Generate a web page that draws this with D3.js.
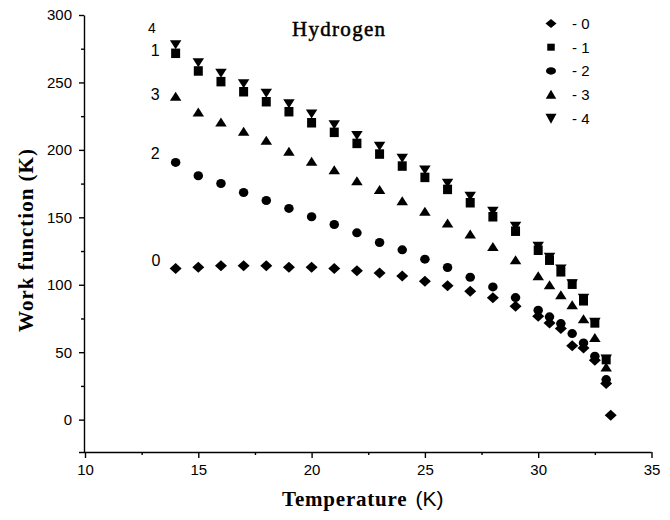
<!DOCTYPE html>
<html><head><meta charset="utf-8">
<script src="https://cdn.jsdelivr.net/npm/d3@7"></script>
<style>
html,body{margin:0;padding:0;background:#fff;}
svg{display:block;}
</style></head>
<body>
<svg id="chart" width="670" height="520"></svg>
<script>
// ---- data ----
const temps = [14,15,16,17,18,19,20,21,22,23,24,25,26,27,28,29,30,30.5,31,31.5,32,32.5,33];
const series0 = [112,113,114,114,114,113,113,112,110.3,108.8,106.4,102.6,99.2,95.2,90.3,84,76.7,71.7,67.5,54.7,53.2,44,26.7,3.2];
const temps0 = [14,15,16,17,18,19,20,21,22,23,24,25,26,27,28,29,30,30.5,31,31.5,32,32.5,33,33.2];
const series1 = [271.6,258.5,250.6,243.1,235.7,228.3,220.1,213,204.8,196.9,188,179.6,170.7,160.8,150.4,139.7,125.6,118.2,109.6,100.4,88.1,71.7,44.5];
const series2 = [190.7,180.8,175.1,168.4,162.5,156.6,150.4,144.7,138.5,131.3,125.9,119,112.8,105.6,98.4,90.5,81.1,76.2,71.2,63.8,56.9,47,29.7];
const series3 = [239.4,227.8,220.4,213.5,206.8,198.6,191.2,185,176.8,170.2,162,154.1,145.4,137.3,128.1,118.2,106.4,99.7,92.3,84.8,74.4,60.6,38.6];
const series4 = [278.3,264.9,257.2,249.3,242.4,234.5,227,218.9,211,203,194.2,185.5,175.6,166,154.8,143.7,128.9,120.7,112,101,90.3,72.5,45.3];
const seriesNames = ["-0","-1","-2","-3","-4"];
const curveLabels = [
  {text:"4", t:12.78, v:286.6},
  {text:"1", t:12.9, v:269.5},
  {text:"3", t:12.9, v:237},
  {text:"2", t:12.9, v:193},
  {text:"0", t:12.94, v:113.9}
];
const xTicks = [10,15,20,25,30,35];
const xMinor = [12.5,17.5,22.5,27.5,32.5];
const yTicks = [0,50,100,150,200,250,300];
const yMinor = [25,75,125,175,225,275];

// ---- layout ----
const svg = d3.select("#chart");
const x = d3.scaleLinear().domain([10,35]).range([85,651.5]);
const y = d3.scaleLinear().domain([-24,300]).range([452,15]);

function shape(type,w,h){
  const a=w/2,b=h/2;
  switch(type){
    case "diamond": return `M0,${-b}L${a},0L0,${b}L${-a},0Z`;
    case "square": return `M${-a},${-b}H${a}V${b}H${-a}Z`;
    case "circle": return `M${-a},0A${a},${b} 0 1,0 ${a},0A${a},${b} 0 1,0 ${-a},0Z`;
    case "up": return `M0,${-b*1.1}L${a},${b*0.9}L${-a},${b*0.9}Z`;
    case "down": return `M0,${b*1.1}L${a},${-b*0.9}L${-a},${-b*0.9}Z`;
  }
}
const types = ["diamond","square","circle","up","down"];
const plotSizes = [[12,11],[9,9.5],[9.5,9],[11.5,9],[11.5,9]];
const legendSizes = [[11,9],[7.5,7],[10,7.5],[10.5,9],[11,10]];

// axes
const gx = svg.append("g").attr("transform",`translate(0,${y(-24)})`);
gx.call(d3.axisBottom(x).tickValues(xTicks).tickSize(6).tickSizeOuter(0).tickFormat(d3.format("d")));
const gxm = svg.append("g").attr("transform",`translate(0,${y(-24)})`);
gxm.call(d3.axisBottom(x).tickValues(xMinor).tickSize(3).tickFormat(""));
gxm.select(".domain").remove();
gx.select(".domain").attr("d",`M79,0.5H${x(35)}`);

const gy = svg.append("g").attr("transform",`translate(${x(10)-1},0)`);
gy.call(d3.axisLeft(y).tickValues(yTicks).tickSize(5).tickSizeOuter(0).tickFormat(d3.format("d")));
const gym = svg.append("g").attr("transform",`translate(${x(10)-1},0)`);
gym.call(d3.axisLeft(y).tickValues(yMinor).tickSize(3).tickFormat(""));
gym.select(".domain").remove();

svg.selectAll(".tick text").attr("font-family","'Liberation Sans', Arial, sans-serif").attr("font-size",15).attr("fill","#000");
gx.selectAll(".tick text").attr("dy","0.95em");
gy.selectAll(".tick text").attr("dx","-4");
svg.selectAll(".domain, .tick line").attr("stroke","#000").attr("stroke-width",1.4);

// data marks
const allSeries = [
  temps0.map((t,i)=>({t,v:series0[i]})),
  temps.map((t,i)=>({t,v:series1[i]})),
  temps.map((t,i)=>({t,v:series2[i]})),
  temps.map((t,i)=>({t,v:series3[i]})),
  temps.map((t,i)=>({t,v:series4[i]}))
];
allSeries.forEach((pts,si)=>{
  svg.append("g").selectAll("path").data(pts).join("path")
    .attr("d",shape(types[si],plotSizes[si][0],plotSizes[si][1]))
    .attr("transform",d=>`translate(${x(d.t)},${y(d.v)})`)
    .attr("fill","#000");
});

// curve labels
svg.append("g").selectAll("text").data(curveLabels).join("text")
  .attr("x",d=>x(d.t)).attr("y",d=>y(d.v))
  .attr("font-family","'Liberation Sans', Arial, sans-serif")
  .attr("font-size",d=>d.text==="4"?14:16)
  .text(d=>d.text);

// legend
const lg = svg.append("g");
seriesNames.forEach((n,i)=>{
  const cy = 23.5 + i*23.7;
  lg.append("path").attr("d",shape(types[i],legendSizes[i][0],legendSizes[i][1]))
    .attr("transform",`translate(551,${cy})`).attr("fill","#000");
  lg.append("text").attr("x",572).attr("y",cy+5.5)
    .attr("font-family","'Liberation Sans', Arial, sans-serif").attr("font-size",15)
    .text(n.replace("-","- "));
});

// title inside
svg.append("text").attr("x",292).attr("y",36)
  .attr("font-family","'Liberation Serif','Times New Roman',serif").attr("font-size",21)
  .attr("letter-spacing","1.3").attr("stroke","#000").attr("stroke-width",0.5)
  .text("Hydrogen");

// axis titles
const xt = svg.append("text").attr("x",282).attr("y",506)
  .attr("font-family","'Liberation Serif','Times New Roman',serif").attr("font-size",21)
  .attr("font-weight","bold").attr("letter-spacing","0.8");
xt.append("tspan").text("Temperature");
xt.append("tspan").attr("font-family","'Liberation Sans', Arial, sans-serif").attr("font-weight","normal")
  .attr("letter-spacing","0").attr("dx","8").text("(K)");

svg.append("text").attr("transform","translate(33,240) rotate(-90)")
  .attr("text-anchor","middle")
  .attr("font-family","'Liberation Serif','Times New Roman',serif").attr("font-size",21)
  .attr("font-weight","bold").attr("letter-spacing","1")
  .text("Work function (K)");
</script>
</body></html>
